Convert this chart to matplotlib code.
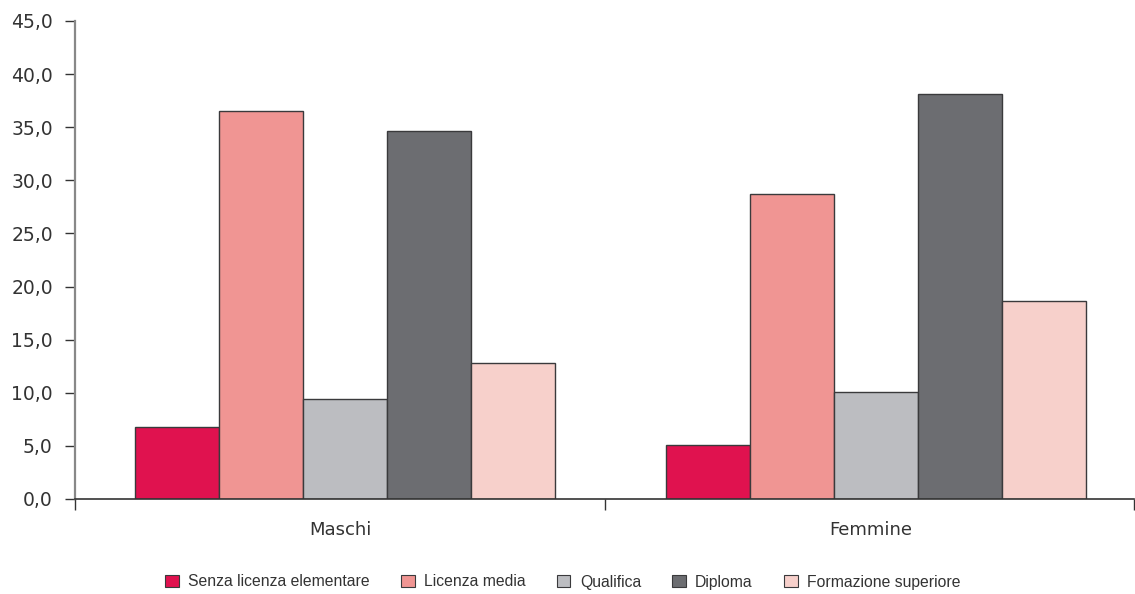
import matplotlib
matplotlib.use("Agg")
import matplotlib.pyplot as plt
import numpy as np
from matplotlib.patches import Patch

categories = ["Maschi", "Femmine"]
series = ["Senza licenza elementare", "Licenza media", "Qualifica", "Diploma", "Formazione superiore"]
values = {
    "Senza licenza elementare": [6.8, 5.1],
    "Licenza media": [36.5, 28.7],
    "Qualifica": [9.4, 10.1],
    "Diploma": [34.6, 38.1],
    "Formazione superiore": [12.8, 18.6],
}
colors = ["#E0124F", "#F09593", "#BCBDC1", "#6C6D71", "#F7D0CB"]
yticks = [0, 5, 10, 15, 20, 25, 30, 35, 40, 45]
ytick_labels = ["0,0", "5,0", "10,0", "15,0", "20,0", "25,0", "30,0", "35,0", "40,0", "45,0"]

W, H = 1135, 594
fig = plt.figure(figsize=(W / 100, H / 100), dpi=100)
ax = fig.add_axes([75 / W, 95 / H, (1134 - 75) / W, (573 - 95) / H])

x = np.arange(len(categories))
bw = 0.1584
n = len(series)
for i, s in enumerate(series):
    ax.bar(x + (i - (n - 1) / 2) * bw, values[s], width=bw, color=colors[i],
           edgecolor="#3a3a3c", linewidth=1.0, zorder=2)

x0, x1 = -0.51, 1.487
ax.set_xlim(x0, x1)
ax.set_ylim(0, 45)

ax.set_yticks(yticks)
ax.set_yticklabels(ytick_labels, fontsize=13.5, color="#333333", family="DejaVu Sans")
ax.tick_params(axis="y", direction="out", length=7, width=1, color="#333333", pad=9)

ax.set_xticks([x0, 0.4885, x1])
ax.set_xticklabels(["", "", ""])
ax.tick_params(axis="x", direction="out", length=8, width=1, color="#333333")
for xi, c in zip(x, categories):
    ax.text(xi - 0.01, -2.9, c, ha="center", va="center", fontsize=13, color="#333333",
            family="DejaVu Sans", transform=ax.transData)

for sp in ["top", "right"]:
    ax.spines[sp].set_visible(False)
ax.spines["left"].set_color("#888888")
ax.spines["left"].set_linewidth(1.6)
ax.spines["bottom"].set_color("#333333")
ax.spines["bottom"].set_linewidth(1.2)

handles = [Patch(facecolor=colors[i], edgecolor="#3a3a3c", linewidth=0.8, label=s) for i, s in enumerate(series)]
leg = fig.legend(handles=handles, loc="center", bbox_to_anchor=(0.496, 1 - 582 / H), ncol=5,
                 frameon=False, prop={"family": ["Liberation Sans", "DejaVu Sans"], "size": 11.3},
                 handlelength=0.85, handleheight=0.85, handletextpad=0.6, columnspacing=2.0)
for t in leg.get_texts():
    t.set_color("#333333")

fig.savefig("out.png", dpi=100)
